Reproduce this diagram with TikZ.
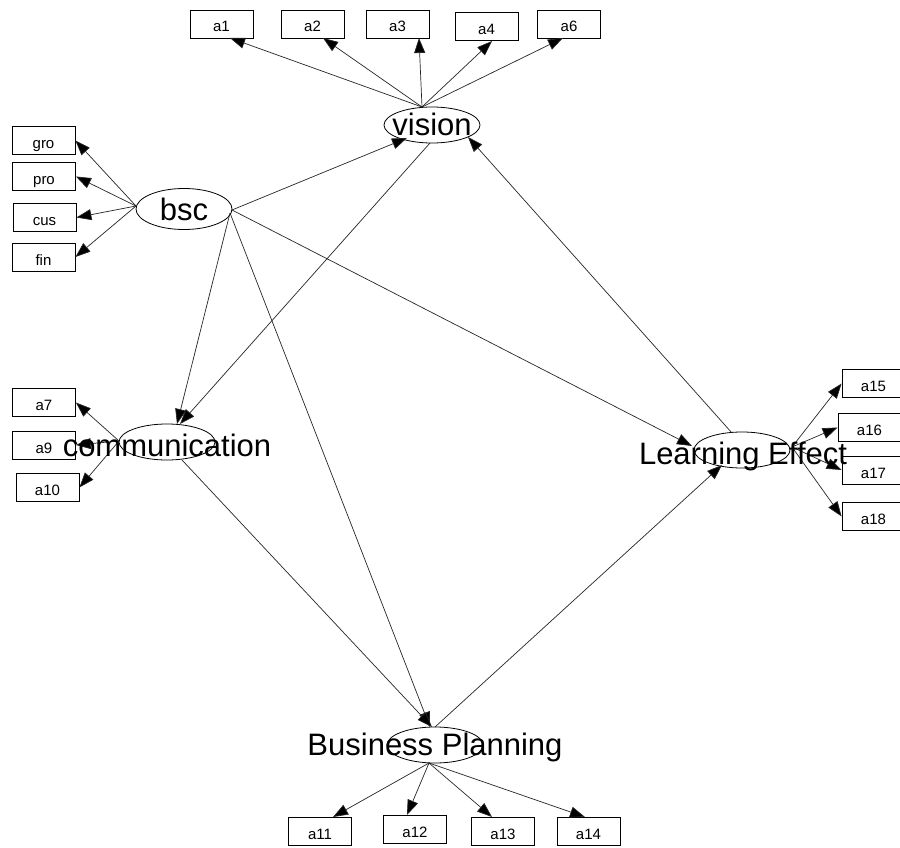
\documentclass[tikz,border=0pt]{standalone}
\usepackage{fontspec}
\setmainfont{Liberation Sans}
\usetikzlibrary{shapes.geometric,arrows.meta,calc}

\tikzset{
  obs/.style={draw=black, line width=0.8pt, minimum width=63pt, minimum height=28pt,
              inner sep=0pt, text height=16pt, text depth=0pt,
              font=\fontsize{15}{18}\selectfont},
  lat/.style={draw=black, line width=0.8pt, ellipse, minimum width=96pt,
              minimum height=36pt, inner sep=0pt},
  latlabel/.style={anchor=base, inner sep=0pt, font=\fontsize{31}{36}\selectfont},
  arr/.style={draw=black!85, line width=0.7pt,
              -{Triangle[length=15pt,width=11pt,fill=black]}}
}

\begin{document}
\begin{tikzpicture}[x=1pt, y=-1pt]
\useasboundingbox (0,0) rectangle (900,848);
\clip (0,0) rectangle (900,848);
\fill[white] (0,0) rectangle (900,848);

% latent variables
\node[lat] (vision) at (432,125) {};
\node[lat, minimum height=41pt] (bsc) at (184,209) {};
\node[lat] (comm) at (167,442) {};
\node[lat] (learn) at (742,450) {};
\node[lat] (plan) at (435,745) {};

% indicators of vision
\node[obs] (a1) at (221.5,24) {a1};
\node[obs] (a2) at (312.5,24) {a2};
\node[obs] (a3) at (397.5,24) {a3};
\node[obs] (a4) at (486.5,26.5) {a4};
\node[obs] (a6) at (569,24) {a6};

% indicators of bsc
\node[obs] (gro) at (43.5,140.5) {gro};
\node[obs] (pro) at (44,176.5) {pro};
\node[obs] (cus) at (44.5,217.5) {cus};
\node[obs] (fin) at (43.5,257) {fin};

% indicators of communication
\node[obs] (a7) at (44,402.5) {a7};
\node[obs] (a9) at (44,445) {a9};
\node[obs] (a10) at (47.5,487.5) {a10};

% indicators of learning effect
\node[obs] (a15) at (873.5,383.5) {a15};
\node[obs] (a16) at (869.5,427.5) {a16};
\node[obs] (a17) at (873.5,470) {a17};
\node[obs] (a18) at (873.5,516.5) {a18};

% indicators of business planning
\node[obs] (a11) at (320,831) {a11};
\node[obs] (a12) at (415,829) {a12};
\node[obs] (a13) at (503,831) {a13};
\node[obs] (a14) at (588.5,831) {a14};

% loadings
\draw[arr] ($(vision)+(-10,-18)$) -- ($(a1)+(8.5,14)$);
\draw[arr] ($(vision)+(-10,-18)$) -- ($(a2)+(10.5,14)$);
\draw[arr] ($(vision)+(-10,-18)$) -- ($(a3)+(21.5,14)$);
\draw[arr] ($(vision)+(-10,-18)$) -- ($(a4)+(5.5,14.5)$);
\draw[arr] ($(vision)+(-10,-18)$) -- ($(a6)+(-6,14)$);

\draw[arr] ($(bsc)+(-48,-3)$) -- (gro.east);
\draw[arr] ($(bsc)+(-48,-3)$) -- (pro.east);
\draw[arr] ($(bsc)+(-48,-3)$) -- (cus.east);
\draw[arr] ($(bsc)+(-48,-3)$) -- (fin.east);

\draw[arr] ($(comm)+(-48,-1)$) -- (a7.east);
\draw[arr] ($(comm)+(-48,-1)$) -- (a9.east);
\draw[arr] ($(comm)+(-48,-1)$) -- (a10.east);

\draw[arr] ($(learn)+(50,-3)$) -- (a15.west);
\draw[arr] ($(learn)+(50,-3)$) -- (a16.west);
\draw[arr] ($(learn)+(50,-3)$) -- (a17.west);
\draw[arr] ($(learn)+(50,-3)$) -- (a18.west);

\draw[arr] ($(plan)+(-6,18)$) -- ($(a11)+(13,-14)$);
\draw[arr] ($(plan)+(-6,18)$) -- ($(a12)+(-8,-14)$);
\draw[arr] ($(plan)+(-6,18)$) -- ($(a13)+(-11,-14)$);
\draw[arr] ($(plan)+(-6,18)$) -- ($(a14)+(-3.5,-14)$);

% structural paths
\draw[arr] ($(bsc)+(48,1)$) -- ($(vision)+(-25,13)$);
\draw[arr] ($(bsc)+(46,4)$) -- ($(comm)+(10,-18)$);
\draw[arr] ($(vision)+(-2,18)$) -- ($(comm)+(13,-18)$);
\draw[arr] ($(bsc)+(46,4)$) -- ($(plan)+(-5,-18)$);
\draw[arr] ($(bsc)+(48,1)$) -- ($(learn)+(-50,-4)$);
\draw[arr] ($(comm)+(15,18)$) -- ($(plan)+(-3,-18)$);
\draw[arr] ($(plan)+(0,-18)$) -- ($(learn)+(-20,15)$);
\draw[arr] ($(learn)+(-10,-17)$) -- ($(vision)+(36,12)$);

% latent labels, printed over the ellipses
\node[latlabel] (vision-t) at ($(vision)+(0,11)$) {vision};
\node[latlabel] (bsc-t) at ($(bsc)+(0,11)$) {bsc};
\node[latlabel] (comm-t) at ($(comm)+(0,14)$) {communication};
\node[latlabel] (learn-t) at ($(learn)+(1,14)$) {Learning Effect};
\node[latlabel] (plan-t) at ($(plan)+(0,10)$) {Business Planning};
\end{tikzpicture}
\end{document}
